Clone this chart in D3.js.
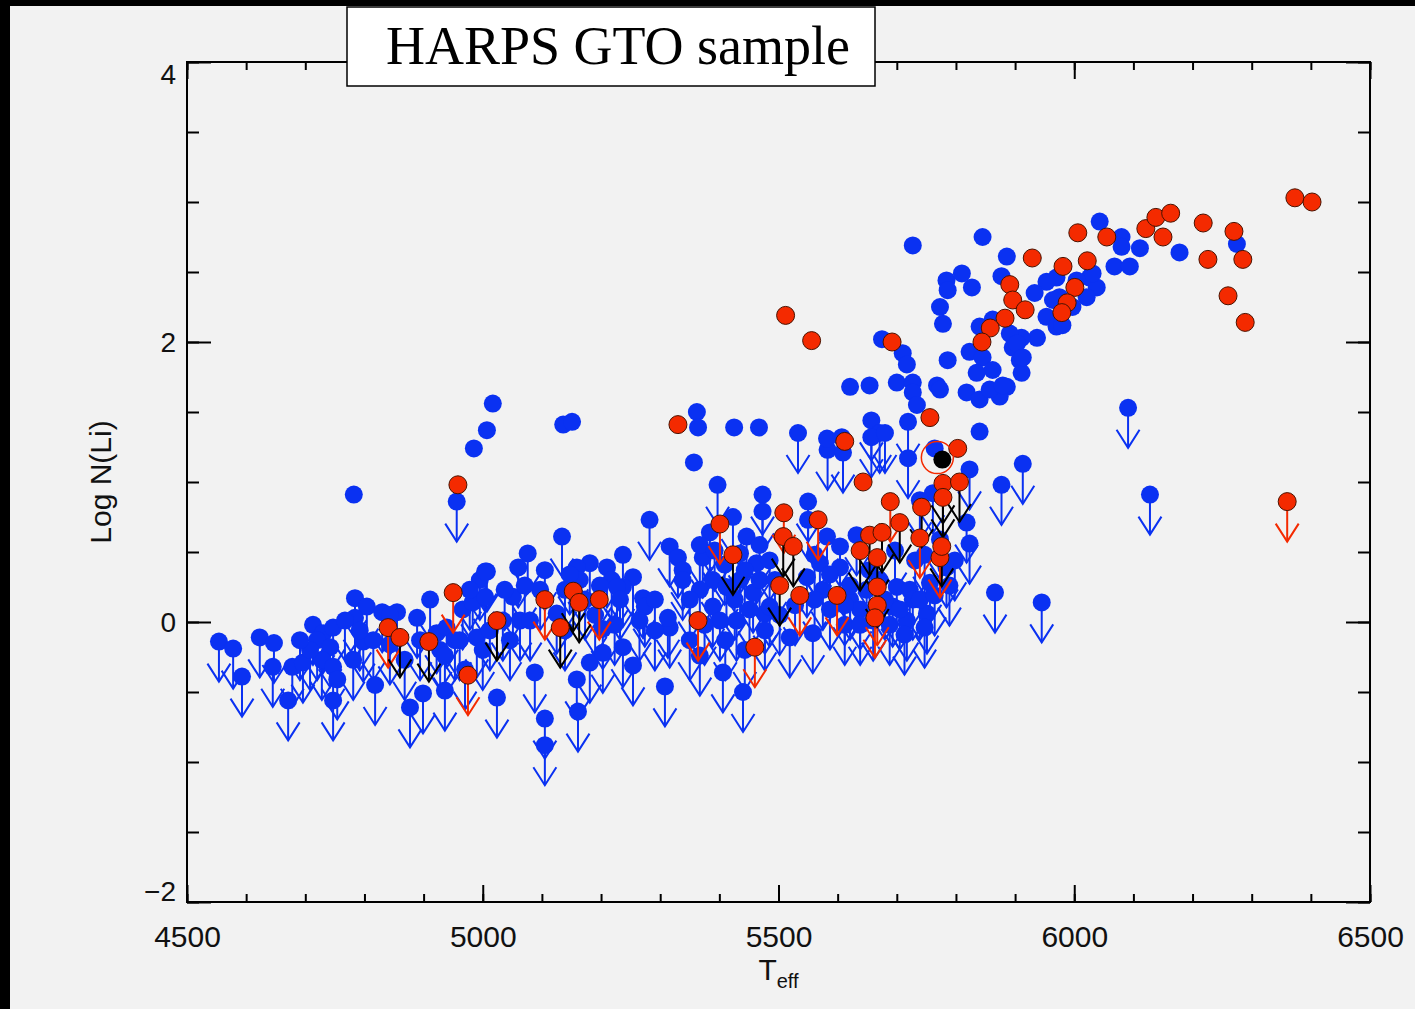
<!DOCTYPE html>
<html>
<head>
<meta charset="utf-8">
<script src="https://cdn.jsdelivr.net/npm/d3@7"></script>
<style>
	html, body { margin: 0; padding: 0; background: #000; }
	svg { display: block; }
</style>
</head>
<body>
<svg id="chart"></svg>
<script>
// Li abundance vs Teff
var xTicks = [4500, 5000, 5500, 6000, 6500];
var yTicks = [-2, 0, 2, 4];

var blueDet = [[4782,0.91],[4985,1.24],[5007,1.37],[5017,1.56],[5136,1.41],[5151,1.43],[5362,1.50],[5364,1.39],[5357,1.14],[5425,1.39],[5467,1.39],[5582,1.31],[5607,1.32],[5621,1.68],[5654,1.69],[5675,2.02],[5727,2.69],[5710,1.92],[5717,1.84],[5700,1.71],[5727,1.71],[5727,1.64],[5734,1.55],[5786,1.87],[5768,1.69],[5773,1.66],[5773,2.25],[5778,2.13],[5784,2.44],[5810,2.49],[5827,2.39],[5786,2.37],[5845,2.75],[5886,2.61],[5877,2.47],[6043,2.86],[6080,2.75],[6080,2.68],[6111,2.67],[6178,2.64],[6275,2.70],[6068,2.54],[6094,2.54],[6026,2.46],[6038,2.39],[6021,2.32],[6031,2.49],[6004,2.44],[5970,2.46],[5953,2.43],[5933,2.35],[5975,2.32],[5964,2.30],[5997,2.25],[5953,2.18],[5970,2.11],[5980,2.12],[5937,2.03],[5911,2.03],[5896,1.96],[5908,1.87],[5911,1.78],[5886,1.68],[5874,1.61],[5891,2.06],[5903,1.99],[5913,1.89],[5840,2.11],[5862,2.16],[5823,1.93],[5845,1.89],[5862,1.80],[5835,1.78],[5818,1.64],[5840,1.59],[5857,1.66],[5879,1.69],[5840,1.36],[5764,1.24]];

var blueLim = [[4956,0.86],[6091,1.53],[5913,1.13],[5877,0.98],[6128,0.91],[5866,0.21],[5945,0.14],[5533,1.35],[5583,1.23],[5609,1.21],[5657,1.44],[5671,1.35],[5657,1.32],[5680,1.35],[5719,1.43],[5823,1.09],[5719,1.17],
	[5397,0.98],[5473,0.91],[5473,0.79],[5550,0.86],[5550,0.73],[5282,0.73],[5134,0.61],[5076,0.49],[5060,0.39],[5007,0.36],[5423,0.75],[5384,0.64],[5316,0.54],[5330,0.46],[5338,0.37],[5372,0.46],[5237,0.48],[5181,0.42],[5210,0.39],[5254,0.32],[5237,0.25],[5271,0.17],[5316,-0.04],[5237,-0.18],[5254,-0.31],[5308,-0.46],[5406,-0.36],[5440,-0.50],[5477,0.06],[5485,0.11],[5558,-0.08],[5519,-0.11],[5446,0.61],[5435,0.49],[5463,0.42],[5389,0.30],[5412,0.25],[5435,0.30],[5457,0.21],[5389,0.11],[5429,0.01],[5582,0.61],[5604,0.54],[5632,0.62],[5570,0.42],[5604,0.39],[5548,0.32],[5575,0.23],[5649,0.23],[5671,0.30],[5700,0.25],[5722,0.23],[5727,0.16],[5693,0.11],[5756,0.28],[5784,0.39],[5823,0.56],[5818,0.71],[5761,0.92],[5660,0.01],[5717,0.01],[5751,0.06],[5739,0.87],
	[4554,-0.14],[4578,-0.19],[4593,-0.39],[4623,-0.11],[4647,-0.15],[4645,-0.32],[4671,-0.56],[4678,-0.32],[4696,-0.29],[4713,-0.02],[4730,-0.08],[4747,-0.04],[4720,-0.13],[4742,-0.18],[4728,-0.27],[4747,-0.32],[4754,-0.41],[4747,-0.56],[4781,-0.27],[4784,0.17],[4804,0.11],[4784,0.03],[4830,0.07],[4855,0.07],[4798,-0.14],[4815,-0.13],[4818,-0.45],[4889,0.03],[4911,0.16],[4877,-0.61],[4899,-0.51],[4922,-0.08],[4939,-0.04],[4966,0.09],[4983,0.14],[4995,0.30],[5004,0.36],[4990,-0.11],[5000,-0.20],
	[4970,-0.34],[5024,-0.54],[5004,0.18],[5051,0.18],[5034,0.01],[5012,-0.06],[5046,-0.13],[5063,0.01],[5088,-0.36],[5125,0.06],[5159,-0.41],[5181,-0.29],[5203,-0.22],[5105,-0.69],[5105,-0.88],[5161,-0.64],[5173,0.16],[5218,0.30],[5274,0.11],[5291,0.16],[5139,0.23],[5097,0.23],[5080,0.01],[4953,-0.13],[4928,-0.20],[4936,-0.49],[5159,0.39],[5164,0.30],[5227,0.25],[5203,-0.05],
	[5338,0.30],[5350,-0.13],[5367,-0.24],[5410,-0.13],[5443,-0.20],[5477,-0.06],[5502,0.05],[5528,0.12],[5621,0.16],[5638,0.09],[5612,-0.02],[5587,0.09],[5697,0.51],[5731,0.44],[5313,0.03],
	[5367,0.55],[5392,0.51],[5409,0.41],[5443,0.37],[5468,0.30],[5367,0.23],[5401,0.01],[5451,0.09],[5494,0.30],[5350,0.16],[5375,-0.02],[5468,0.55],[5426,0.16],[5485,0.44],
	[5561,0.48],[5587,0.34],[5621,0.26],[5654,0.37],[5680,0.16],[5705,0.09],[5739,0.16],[5764,0.19],[5638,-0.02],[5688,-0.02],[5713,-0.09],[5747,-0.04],[5612,0.12],[5561,0.16],[5789,0.26],[5798,0.44],[5773,0.59],[5747,0.48],
	[5190,0.05],[5223,-0.02],[5265,0.01],[5291,-0.06],[5198,0.26],[5147,0.34],[5105,0.37],[5071,0.26],[5139,-0.06],[5232,0.16],
	[4767,0.01],[4792,-0.06],[4843,-0.16],[4868,-0.27],[4936,-0.24],[4961,-0.13],[4843,0.05],[4894,-0.13],[4708,-0.20],[4691,-0.13],[4978,0.23],[5037,0.23]];

var redDet = [[4958,0.98],[5330,1.41],[5512,2.19],[5556,2.01],[5692,2.00],[5756,1.46],[5612,1.29],[5643,1.00],[5929,2.60],[6006,2.78],[6055,2.75],[6121,2.81],[6138,2.89],[6163,2.92],[6150,2.75],[6218,2.85],[6270,2.79],[6226,2.59],[6285,2.59],[6260,2.33],[6289,2.14],[6373,3.03],[6402,3.00],[5891,2.41],[5896,2.30],[5917,2.23],[5883,2.17],[5858,2.10],[5844,2.00],[5981,2.54],[6022,2.58],[6001,2.39],[5988,2.28],[5979,2.21],[5803,1.24]];

var redLim = [[4840,-0.04],[4950,0.21],[4975,-0.38],[5105,0.16],[5197,0.16],[5364,0.01],[5401,0.70],[5460,-0.18],[5509,0.78],[5567,0.73],[5536,0.19],[5599,0.19],[5689,0.86],[5739,0.60],[5773,0.46],[6360,0.86],[5667,0.12],[5663,0.03]];

var redLimBlack = [[4860,-0.11],[4909,-0.14],[5024,0.01],[5131,-0.04],[5153,0.22],[5163,0.14],[5423,0.48],[5508,0.61],[5525,0.54],[5502,0.26],[5638,0.51],[5654,0.62],[5675,0.64],[5667,0.46],[5667,0.25],[5705,0.71],[5742,0.82],[5776,0.54],[5778,0.99],[5806,1.00],[5778,0.89]];

var sun = [[5777, 1.16]];

var width = 1415, height = 1009;
var margin = { "top": 62, "right": 45, "bottom": 107, "left": 187 };
var blue = "#0a31f2", red = "#f42a00";
var sans = "Liberation Sans, Arial, sans-serif";

var svg = d3.select("#chart")
	.attr("width", width)
	.attr("height", height);

// black strip on the left and top, grey page
svg.append("rect").attr("width", width).attr("height", height).attr("fill", "#000");
svg.append("rect").attr("x", 10).attr("y", 6).attr("width", width - 10).attr("height", height - 6).attr("fill", "#f2f2f2");

var x = d3.scaleLinear().domain([4500, 6500]).range([margin.left, width - margin.right]);
var y = d3.scaleLinear().domain([-2, 4]).range([height - margin.bottom, margin.top]);

var minorX = d3.range(4500, 6501, 100);
var minorY = d3.range(-2, 4.01, 0.5);

function styleAxis(g) {
	g.select(".domain").remove();
	g.selectAll(".tick line").attr("stroke", "#000").attr("stroke-width", 2);
}

// bottom
svg.append("g").attr("transform", "translate(0," + y(-2) + ")")
	.call(d3.axisBottom(x).tickValues(minorX).tickSize(-8).tickFormat(""))
	.call(styleAxis);
svg.append("g").attr("transform", "translate(0," + y(-2) + ")")
	.call(d3.axisBottom(x).tickValues(xTicks).tickSize(-17).tickPadding(24).tickFormat(d3.format("d")))
	.call(styleAxis)
	.selectAll("text").attr("font-family", sans).attr("font-size", 30).attr("fill", "#111");
// top
svg.append("g").attr("transform", "translate(0," + y(4) + ")")
	.call(d3.axisTop(x).tickValues(minorX).tickSize(-8).tickFormat(""))
	.call(styleAxis);
svg.append("g").attr("transform", "translate(0," + y(4) + ")")
	.call(d3.axisTop(x).tickValues(xTicks).tickSize(-17).tickFormat(""))
	.call(styleAxis);
// left
svg.append("g").attr("transform", "translate(" + x(4500) + ",0)")
	.call(d3.axisLeft(y).tickValues(minorY).tickSize(-12).tickFormat(""))
	.call(styleAxis);
svg.append("g").attr("transform", "translate(" + x(4500) + ",0)")
	.call(d3.axisLeft(y).tickValues(yTicks).tickSize(-24).tickPadding(11).tickFormat(function(d) { return d < 0 ? "\u2212" + Math.abs(d) : d; }))
	.call(styleAxis)
	.selectAll("text")
		.attr("font-family", sans).attr("font-size", 28).attr("fill", "#111")
		.attr("dy", function(d) { return d == 4 ? "0.75em" : (d == -2 ? "-0.05em" : "0.35em"); });
// right
svg.append("g").attr("transform", "translate(" + x(6500) + ",0)")
	.call(d3.axisRight(y).tickValues(minorY).tickSize(-12).tickFormat(""))
	.call(styleAxis);
svg.append("g").attr("transform", "translate(" + x(6500) + ",0)")
	.call(d3.axisRight(y).tickValues(yTicks).tickSize(-24).tickFormat(""))
	.call(styleAxis);

svg.append("rect")
	.attr("x", x(4500)).attr("y", y(4))
	.attr("width", x(6500) - x(4500)).attr("height", y(-2) - y(4))
	.attr("fill", "none").attr("stroke", "#000").attr("stroke-width", 2);

// upper-limit arrows: stem plus a V head, fixed pixel size
var arrowLen = 40, headW = 11.5, headH = 18;
function drawArrows(data, color) {
	var g = svg.append("g").attr("stroke", color).attr("stroke-width", 2).attr("fill", "none");
	g.selectAll("line").data(data).enter().append("line")
		.attr("x1", function(d) { return x(d[0]); })
		.attr("x2", function(d) { return x(d[0]); })
		.attr("y1", function(d) { return y(d[1]); })
		.attr("y2", function(d) { return y(d[1]) + arrowLen; });
	g.selectAll("polyline").data(data).enter().append("polyline")
		.attr("points", function(d) {
			var px = x(d[0]), py = y(d[1]) + arrowLen;
			return [[px - headW, py - headH], [px, py], [px + headW, py - headH]].join(" ");
		});
}
function drawDots(data, color, stroke) {
	svg.append("g").selectAll("circle").data(data).enter().append("circle")
		.attr("cx", function(d) { return x(d[0]); })
		.attr("cy", function(d) { return y(d[1]); })
		.attr("r", 9)
		.attr("fill", color)
		.attr("stroke", stroke || "none")
		.attr("stroke-width", 1);
}

drawArrows(blueLim, blue);
drawDots(blueLim, blue);
drawDots(blueDet, blue);
drawArrows(redLim, red);
drawArrows(redLimBlack, "#000");
drawDots(redDet, red, "#4a1200");
drawDots(redLim, red, "#4a1200");
drawDots(redLimBlack, red, "#4a1200");

// the Sun
svg.append("g").selectAll("circle.ring").data(sun).enter().append("circle")
	.attr("cx", function(d) { return x(d[0]) - 5; })
	.attr("cy", function(d) { return y(d[1]) - 2; })
	.attr("r", 16).attr("fill", "none").attr("stroke", red).attr("stroke-width", 1.5);
drawDots(sun, "#000");

// axis titles
svg.append("text")
	.attr("transform", "translate(111," + y(1) + ") rotate(-90)")
	.attr("text-anchor", "middle")
	.attr("font-family", sans)
	.attr("font-size", 30)
	.attr("fill", "#111")
	.text("Log N(Li)");
var xt = svg.append("text")
	.attr("x", x(5500))
	.attr("y", 980)
	.attr("text-anchor", "middle")
	.attr("font-family", sans)
	.attr("font-size", 30)
	.attr("fill", "#111");
xt.append("tspan").text("T");
xt.append("tspan").attr("font-size", 20).attr("dy", 8).text("eff");

// title box
svg.append("rect").attr("x", 347).attr("y", 7).attr("width", 528).attr("height", 79)
	.attr("fill", "#fff").attr("stroke", "#000").attr("stroke-width", 1.5);
svg.append("text")
	.attr("x", 618).attr("y", 64)
	.attr("text-anchor", "middle")
	.attr("font-family", "Liberation Serif, Times New Roman, serif")
	.attr("font-size", 54)
	.text("HARPS GTO sample");
</script>
</body>
</html>
